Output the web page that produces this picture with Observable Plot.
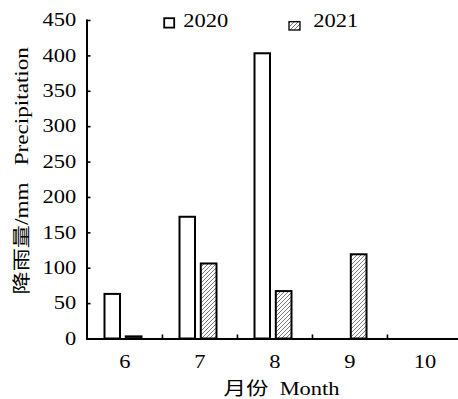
<!DOCTYPE html>
<html>
<head>
<meta charset="utf-8">
<script src="https://cdn.jsdelivr.net/npm/d3@7"></script>
<script src="https://cdn.jsdelivr.net/npm/@observablehq/plot@0.6"></script>
<style>
  html, body { margin: 0; padding: 0; background: white; }
  #chart { width: 458px; height: 399px; overflow: hidden; }
</style>
</head>
<body>
<div id="chart"></div>
<script>
// ---- data ----
const months = ["6", "7", "8", "9", "10"];
const precip2020 = [63, 172, 403, 0, 0];
const precip2021 = [3, 106, 67, 119, 0];
const years = ["2020", "2021"];
const yTicks = [0, 50, 100, 150, 200, 250, 300, 350, 400, 450];
const xTitle = "月份\u00a0\u00a0Month";
const yTitle = "降雨量/mm\u00a0\u00a0\u00a0Precipitation";

const rows = months.map((m, i) => ({month: m, v2020: precip2020[i], v2021: precip2021[i]}));

const W = 458, H = 399;
const mL = 86.5, mR = -4, mT = 20, mB = 60.5;
const step = (W - mL - mR) / months.length;
const FONT = '"Liberation Serif", "Noto Sans CJK SC", serif';
const STRETCH = 1.25;

const svg = Plot.plot({
  width: W,
  height: H,
  marginLeft: mL,
  marginRight: mR,
  marginTop: mT,
  marginBottom: mB,
  style: {fontFamily: FONT, fontSize: "18px", color: "black", background: "white", overflow: "hidden"},
  x: {type: "band", domain: months, padding: 0},
  y: {domain: [0, 450]},
  marks: [
    Plot.barY(rows, {x: "month", y: "v2020", fill: "white", stroke: "black", strokeWidth: 2, insetLeft: 17.5, insetRight: 42}),
    Plot.barY(rows, {x: "month", y: "v2021", fill: "url(#hatch)", stroke: "black", strokeWidth: 2, insetLeft: 38.8, insetRight: 20.5}),
    Plot.ruleX(months.slice(1), {x: d => d, y1: 0, y2: 5.7, dx: -step / 2, stroke: "black", strokeWidth: 1.6}),
    Plot.ruleY([0], {stroke: "black", strokeWidth: 2}),
    Plot.frame({anchor: "left", stroke: "black", strokeWidth: 2}),
    Plot.axisY({ticks: yTicks, tickSize: -4, tickPadding: 14.7, tickFormat: d => String(d), label: null, fontSize: 18, fontFamily: FONT, fontVariant: "normal", strokeWidth: 1.6}),
    Plot.axisX({tickSize: 0, tickPadding: 16.7, label: null, fontSize: 18, fontFamily: FONT, fontVariant: "normal"}),
    Plot.text([xTitle], {text: d => d, frameAnchor: "bottom", textAnchor: "middle", dx: 6.75, dy: 50.5, lineAnchor: "middle", fontSize: 18, fontFamily: FONT}),
    Plot.text([yTitle], {text: d => d, frameAnchor: "left", textAnchor: "middle", rotate: -90, dx: -65, dy: -9, lineAnchor: "middle", fontSize: 18.5, fontFamily: FONT})
  ]
});

// hatch pattern for 2021
const s = d3.select(svg);
const defs = s.insert("defs", ":first-child");
const pat = defs.append("pattern").attr("id", "hatch").attr("patternUnits", "userSpaceOnUse")
  .attr("width", 4).attr("height", 4);
pat.append("rect").attr("width", 4).attr("height", 4).attr("fill", "white");
pat.append("path").attr("d", "M-1,1 l2,-2 M0,4 l4,-4 M3,5 l2,-2")
  .attr("stroke", "#555").attr("stroke-width", 0.8);

// legend
const lg = s.append("g").attr("font-family", FONT).attr("font-size", 18).attr("fill", "black")
  .attr("text-anchor", "start");
lg.append("rect").attr("x", 164.2).attr("y", 18.2).attr("width", 10).attr("height", 9.4)
  .attr("fill", "white").attr("stroke", "black").attr("stroke-width", 1.8);
lg.append("text").attr("text-anchor", "start").attr("transform", "translate(183.3,26.8)").text(years[0]);
lg.append("rect").attr("x", 289).attr("y", 21.7).attr("width", 11).attr("height", 8.3)
  .attr("fill", "url(#hatch)").attr("stroke", "black").attr("stroke-width", 1.3);
lg.append("text").attr("text-anchor", "start").attr("transform", "translate(313.3,26.8)").text(years[1]);

// widen glyphs horizontally (the reference font is set wide)
s.selectAll("text").each(function() {
  const t = this.getAttribute("transform");
  if (t) {
    this.setAttribute("transform", t + ` scale(${STRETCH},1)`);
  } else {
    const x = +(this.getAttribute("x") || 0), y = +(this.getAttribute("y") || 0);
    this.removeAttribute("x"); this.removeAttribute("y");
    this.setAttribute("transform", `translate(${x},${y}) scale(${STRETCH},1)`);
  }
});

document.getElementById("chart").appendChild(svg);
</script>
</body>
</html>
